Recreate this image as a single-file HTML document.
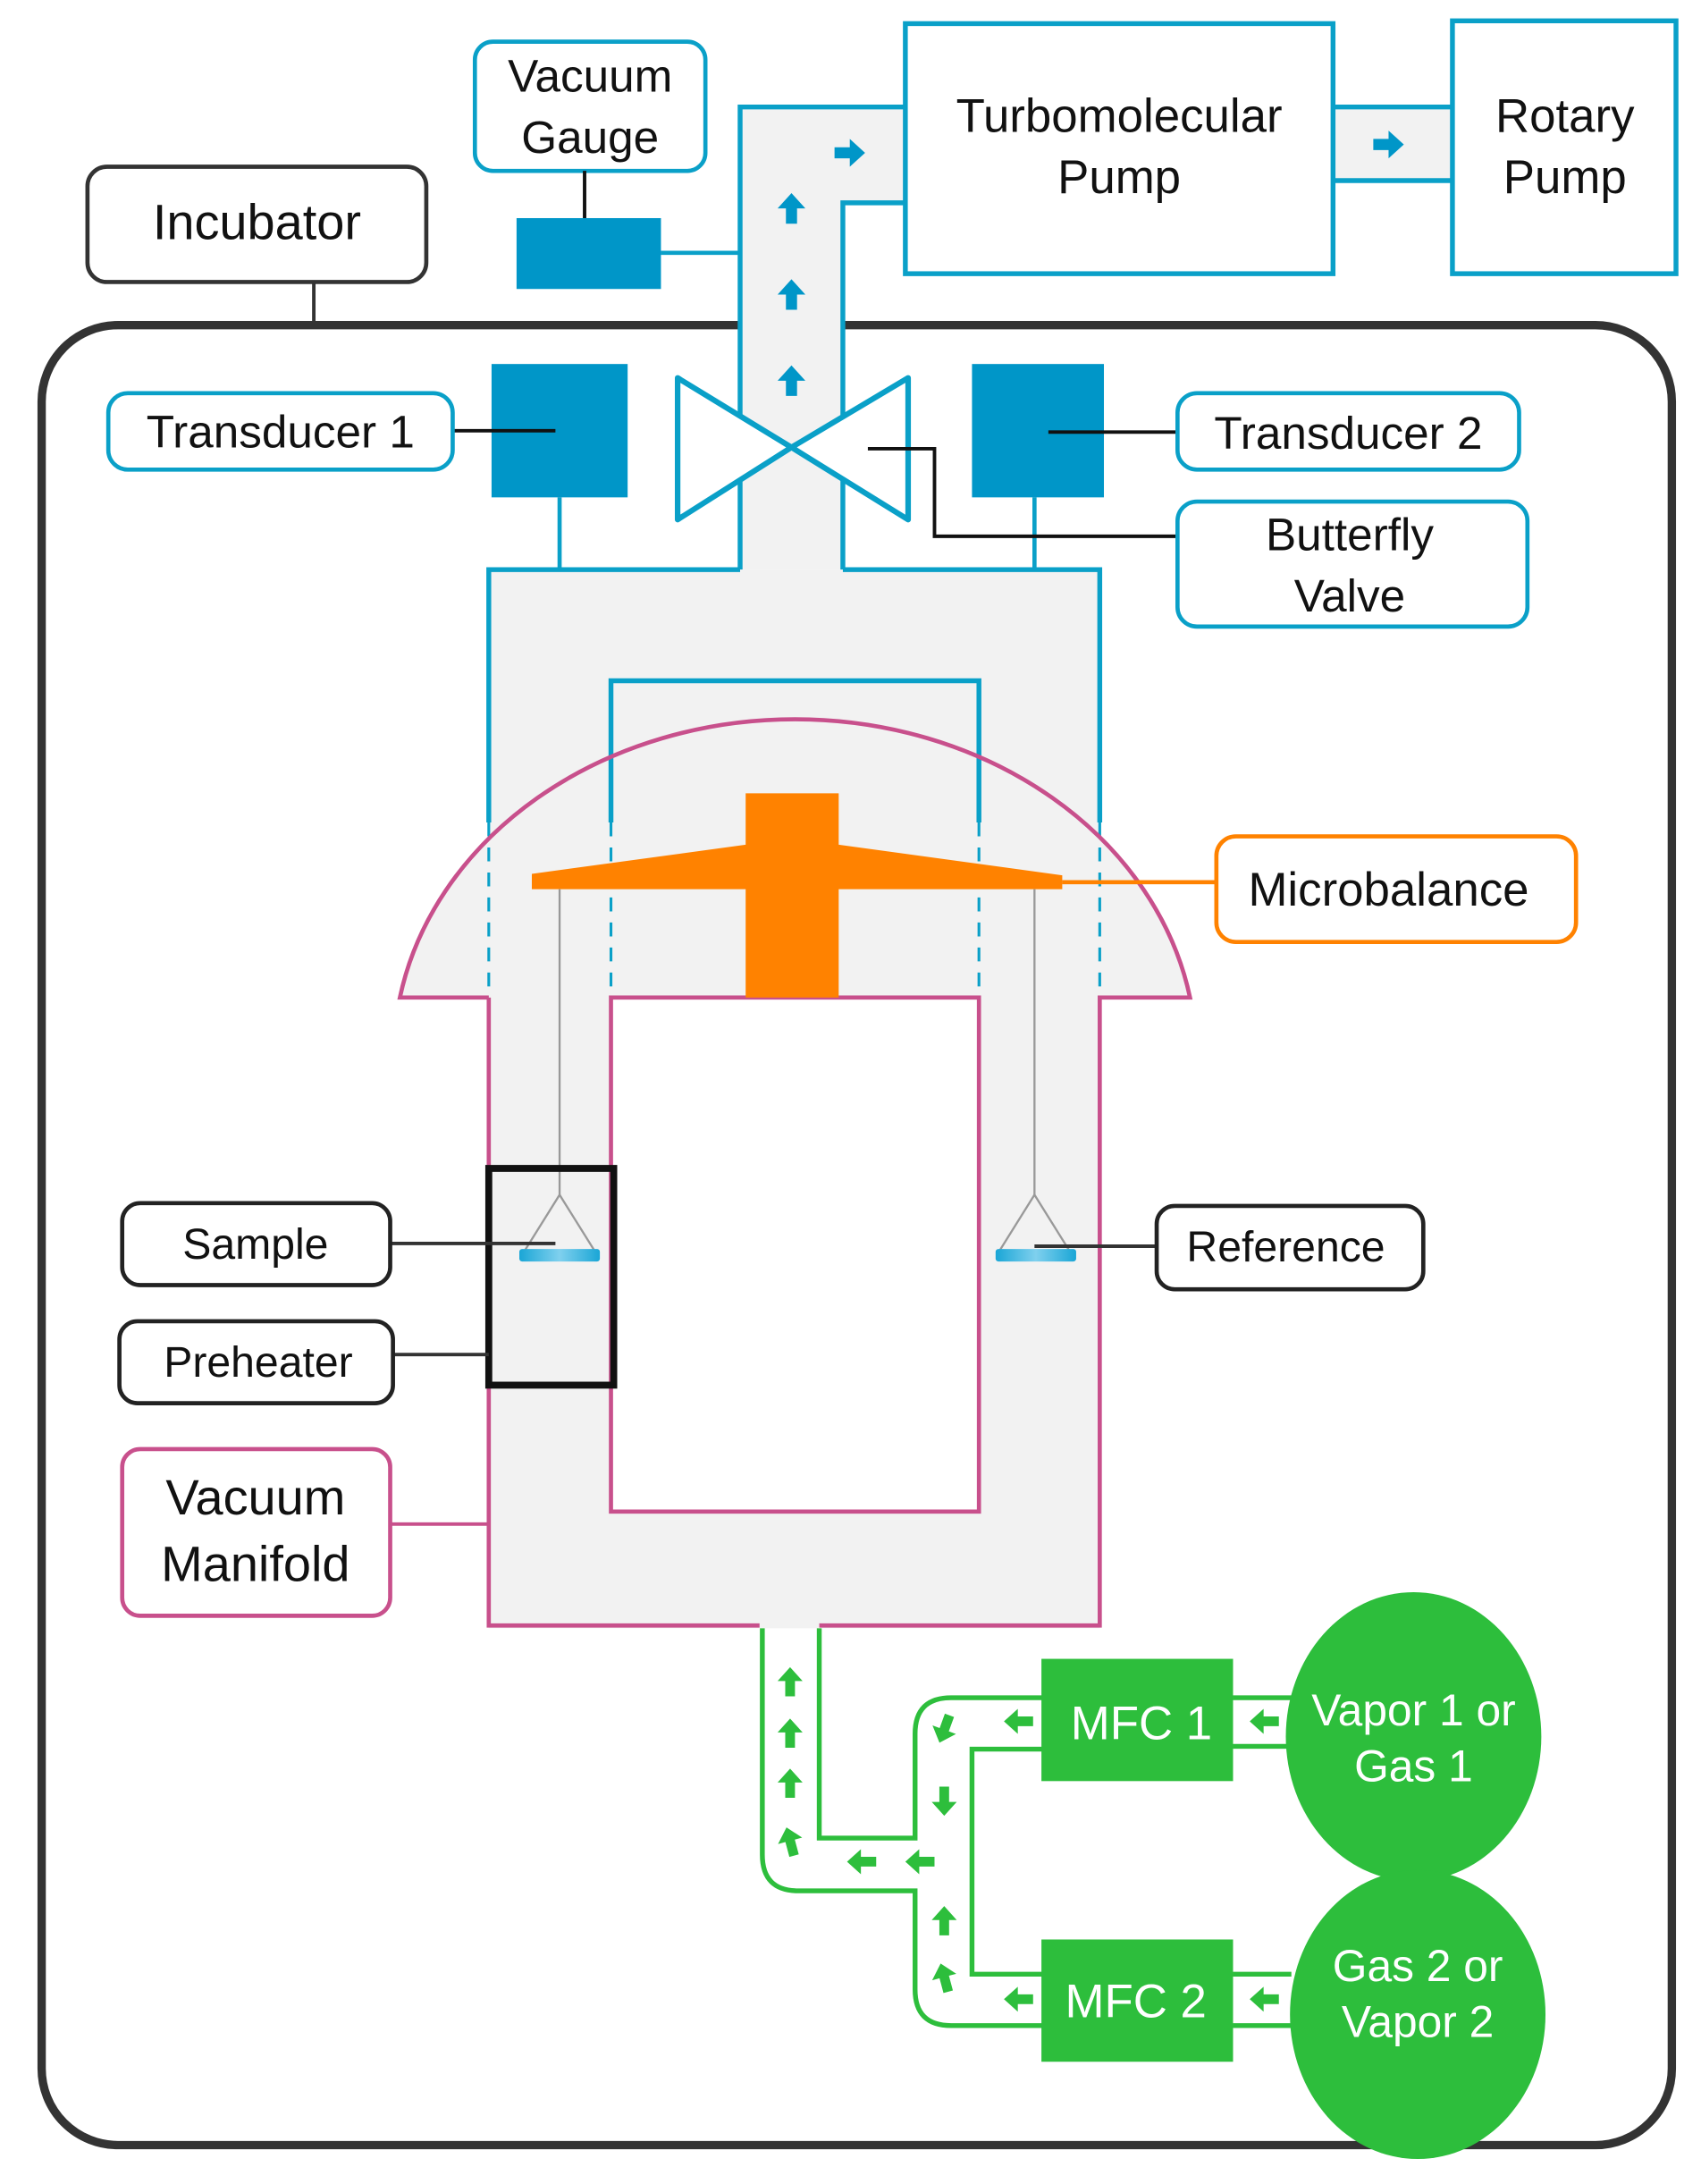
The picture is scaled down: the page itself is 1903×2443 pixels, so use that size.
<!DOCTYPE html>
<html><head><meta charset="utf-8">
<style>
html,body{margin:0;padding:0;background:#fff;}
svg{display:block;}
text{font-family:"Liberation Sans",sans-serif;}
</style></head>
<body>
<svg width="1903" height="2443" viewBox="0 0 1225 1572" preserveAspectRatio="none" xmlns="http://www.w3.org/2000/svg">
<defs>
<linearGradient id="dish" x1="0" x2="1" y1="0" y2="0">
<stop offset="0" stop-color="#1aa6d6"/><stop offset="0.5" stop-color="#7fd0ee"/><stop offset="1" stop-color="#1aa6d6"/>
</linearGradient>
<g id="garrow"><path d="M0,-10 L9,0 L3.5,0 L3.5,11 L-3.5,11 L-3.5,0 L-9,0 Z" fill="#2dbe3c"/></g>
<g id="barrow"><path d="M0,-11 L10,0 L4,0 L4,11 L-4,11 L-4,0 L-10,0 Z" fill="#0096c8"/></g>
</defs>

<line x1="226" y1="203" x2="226" y2="234" stroke="#333" stroke-width="2.5"/>
<rect x="30" y="234" width="1174" height="1310" rx="55" fill="none" stroke="#333" stroke-width="6"/>
<rect x="63" y="120" width="244" height="83" rx="14" fill="#fff" stroke="#333" stroke-width="3"/>
<text x="185" y="172" font-size="36" text-anchor="middle" fill="#111">Incubator</text>

<rect x="342" y="30" width="166" height="93" rx="13" fill="#fff" stroke="#0aa0c8" stroke-width="3"/>
<text x="425" y="66" font-size="33" text-anchor="middle" fill="#111">Vacuum</text>
<text x="425" y="110" font-size="33" text-anchor="middle" fill="#111">Gauge</text>
<line x1="421" y1="123" x2="421" y2="178" stroke="#111" stroke-width="2.5"/>
<rect x="372" y="157" width="104" height="51" fill="#0096c8"/>
<line x1="476" y1="182" x2="533" y2="182" stroke="#0aa0c8" stroke-width="3"/>

<path d="M533,77 L652,77 L652,146 L607,146 L607,410 L533,410 Z" fill="#f2f2f2"/>
<path d="M533,410 L533,77 L652,77 M652,146 L607,146 L607,410" fill="none" stroke="#0aa0c8" stroke-width="3.5"/>
<use href="#barrow" x="570" y="150"/>
<use href="#barrow" x="570" y="212"/>
<use href="#barrow" x="570" y="274"/>
<use href="#barrow" x="612" y="110" transform="rotate(90 612 110)"/>

<rect x="960" y="77" width="86" height="53" fill="#f2f2f2"/>
<line x1="960" y1="77" x2="1046" y2="77" stroke="#0aa0c8" stroke-width="3.5"/>
<line x1="960" y1="130" x2="1046" y2="130" stroke="#0aa0c8" stroke-width="3.5"/>
<use href="#barrow" x="1000" y="104" transform="rotate(90 1000 104)"/>
<rect x="652" y="17" width="308" height="180" fill="#fff" stroke="#0aa0c8" stroke-width="3.5"/>
<text x="806" y="95" font-size="34" text-anchor="middle" fill="#111">Turbomolecular</text>
<text x="806" y="139" font-size="34" text-anchor="middle" fill="#111">Pump</text>
<rect x="1046" y="15" width="161" height="182" fill="#fff" stroke="#0aa0c8" stroke-width="3.5"/>
<text x="1127" y="95" font-size="34" text-anchor="middle" fill="#111">Rotary</text>
<text x="1127" y="139" font-size="34" text-anchor="middle" fill="#111">Pump</text>

<path d="M352,410 L792,410 L792,1172 L352,1172 Z" fill="#f2f2f2"/>
<path d="M288,718 A289 243 0 0 1 857,718 Z" fill="#f2f2f2"/>
<path d="M352,592 L352,410 L533,410 M607,410 L792,410 L792,592" fill="none" stroke="#0aa0c8" stroke-width="3.5"/>
<path d="M440,592 L440,490 L705,490 L705,592" fill="none" stroke="#0aa0c8" stroke-width="3.5"/>
<line x1="403" y1="358" x2="403" y2="410" stroke="#0aa0c8" stroke-width="3"/>
<line x1="745" y1="358" x2="745" y2="410" stroke="#0aa0c8" stroke-width="3"/>
<g stroke="#0aa0c8" stroke-width="2" stroke-dasharray="10,8">
<line x1="352" y1="592" x2="352" y2="718"/>
<line x1="440" y1="520" x2="440" y2="718"/>
<line x1="705" y1="520" x2="705" y2="718"/>
<line x1="792" y1="592" x2="792" y2="718"/>
</g>

<rect x="354" y="262" width="98" height="96" fill="#0096c8"/>
<rect x="700" y="262" width="95" height="96" fill="#0096c8"/>
<line x1="326" y1="310" x2="400" y2="310" stroke="#111" stroke-width="2.5"/>
<line x1="755" y1="311" x2="848" y2="311" stroke="#111" stroke-width="2.5"/>
<rect x="78" y="283" width="248" height="55" rx="14" fill="#fff" stroke="#0aa0c8" stroke-width="3"/>
<text x="202" y="322" font-size="33" text-anchor="middle" fill="#111">Transducer 1</text>
<rect x="848" y="283" width="246" height="55" rx="14" fill="#fff" stroke="#0aa0c8" stroke-width="3"/>
<text x="971" y="323" font-size="33" text-anchor="middle" fill="#111">Transducer 2</text>

<path d="M488,272 L570,322 L488,374 Z" fill="#fff" stroke="#0aa0c8" stroke-width="4" stroke-linejoin="round"/>
<path d="M654,272 L570,322 L654,374 Z" fill="#fff" stroke="#0aa0c8" stroke-width="4" stroke-linejoin="round"/>
<path d="M625,323 L673,323 L673,386 L848,386" fill="none" stroke="#111" stroke-width="2.5"/>
<rect x="848" y="361" width="252" height="90" rx="14" fill="#fff" stroke="#0aa0c8" stroke-width="3"/>
<text x="972" y="396" font-size="33" text-anchor="middle" fill="#111">Butterfly</text>
<text x="972" y="440" font-size="33" text-anchor="middle" fill="#111">Valve</text>

<path d="M352,718 L288,718 A289 243 0 0 1 857,718 L792,718 L792,1170 L590,1170" fill="none" stroke="#c8508c" stroke-width="3"/>
<path d="M547,1170 L352,1170 L352,718" fill="none" stroke="#c8508c" stroke-width="3"/>
<rect x="440" y="718" width="265" height="370" fill="#fff" stroke="#c8508c" stroke-width="3"/>

<rect x="537" y="571" width="67" height="147" fill="#ff8200"/>
<path d="M383,629 L537,608 L604,608 L765,630 L765,640 L383,640 Z" fill="#ff8200"/>
<line x1="765" y1="635" x2="876" y2="635" stroke="#ff8200" stroke-width="3"/>
<rect x="876" y="602" width="259" height="76" rx="14" fill="#fff" stroke="#ff8200" stroke-width="3"/>
<text x="1000" y="652" font-size="34" text-anchor="middle" fill="#111">Microbalance</text>

<g stroke="#999" stroke-width="1.5" fill="none">
<line x1="403" y1="640" x2="403" y2="860"/>
<line x1="745" y1="640" x2="745" y2="860"/>
<path d="M378,900 L403,860 L428,900"/>
<path d="M720,900 L745,860 L770,900"/>
</g>
<rect x="374" y="899" width="58" height="9" rx="2" fill="url(#dish)"/>
<rect x="717" y="899" width="58" height="9" rx="2" fill="url(#dish)"/>
<rect x="352" y="841" width="90" height="156" fill="none" stroke="#111" stroke-width="5"/>

<line x1="281" y1="895" x2="400" y2="895" stroke="#333" stroke-width="2.5"/>
<line x1="745" y1="897" x2="833" y2="897" stroke="#333" stroke-width="2.5"/>
<line x1="283" y1="975" x2="352" y2="975" stroke="#333" stroke-width="2.5"/>
<line x1="281" y1="1097" x2="352" y2="1097" stroke="#c8508c" stroke-width="2.5"/>
<rect x="88" y="866" width="193" height="59" rx="13" fill="#fff" stroke="#222" stroke-width="3"/>
<text x="184" y="906" font-size="31" text-anchor="middle" fill="#111">Sample</text>
<rect x="833" y="868" width="192" height="60" rx="13" fill="#fff" stroke="#222" stroke-width="3"/>
<text x="926" y="908" font-size="31" text-anchor="middle" fill="#111">Reference</text>
<rect x="86" y="951" width="197" height="59" rx="13" fill="#fff" stroke="#222" stroke-width="3"/>
<text x="186" y="991" font-size="31" text-anchor="middle" fill="#111">Preheater</text>
<rect x="88" y="1043" width="193" height="120" rx="13" fill="#fff" stroke="#c8508c" stroke-width="3"/>
<text x="184" y="1090" font-size="36" text-anchor="middle" fill="#111">Vacuum</text>
<text x="184" y="1138" font-size="36" text-anchor="middle" fill="#111">Manifold</text>

<g fill="none" stroke="#2dbe3c" stroke-width="3.5">
<path d="M549,1172 L549,1335 Q549,1361 575,1361 L659,1361 L659,1432 Q659,1458 685,1458 L752,1458"/>
<path d="M590,1172 L590,1323 L659,1323 L659,1248 Q659,1222 685,1222 L752,1222"/>
<path d="M752,1259 L700,1259 L700,1421 L752,1421"/>
<path d="M888,1222 L930,1222 M888,1257 L930,1257"/>
<path d="M888,1421 L930,1421 M888,1458 L930,1458"/>
</g>
<use href="#garrow" x="569" y="1210"/>
<use href="#garrow" x="569" y="1247"/>
<use href="#garrow" x="569" y="1283"/>
<use href="#garrow" x="569" y="1325" transform="rotate(-15 569 1325)"/>
<use href="#garrow" x="620" y="1340" transform="rotate(-90 620 1340)"/>
<use href="#garrow" x="662" y="1340" transform="rotate(-90 662 1340)"/>
<use href="#garrow" x="680" y="1297" transform="rotate(180 680 1297)"/>
<use href="#garrow" x="680" y="1382"/>
<use href="#garrow" x="680" y="1245" transform="rotate(200 680 1245)"/>
<use href="#garrow" x="680" y="1423" transform="rotate(-15 680 1423)"/>
<use href="#garrow" x="733" y="1239" transform="rotate(-90 733 1239)"/>
<use href="#garrow" x="733" y="1439" transform="rotate(-90 733 1439)"/>
<use href="#garrow" x="910" y="1239" transform="rotate(-90 910 1239)"/>
<use href="#garrow" x="910" y="1439" transform="rotate(-90 910 1439)"/>

<rect x="750" y="1194" width="138" height="88" fill="#2dbe3c"/>
<rect x="750" y="1396" width="138" height="88" fill="#2dbe3c"/>
<text x="822" y="1252" font-size="34" text-anchor="middle" fill="#fff">MFC 1</text>
<text x="818" y="1452" font-size="34" text-anchor="middle" fill="#fff">MFC 2</text>
<ellipse cx="1018" cy="1250" rx="92" ry="104" fill="#2dbe3c"/>
<ellipse cx="1021" cy="1450" rx="92" ry="104" fill="#2dbe3c"/>
<text x="1018" y="1242" font-size="32" text-anchor="middle" fill="#fff">Vapor 1 or</text>
<text x="1018" y="1282" font-size="32" text-anchor="middle" fill="#fff">Gas 1</text>
<text x="1021" y="1426" font-size="32" text-anchor="middle" fill="#fff">Gas 2 or</text>
<text x="1021" y="1466" font-size="32" text-anchor="middle" fill="#fff">Vapor 2</text>
</svg>
</body></html>
